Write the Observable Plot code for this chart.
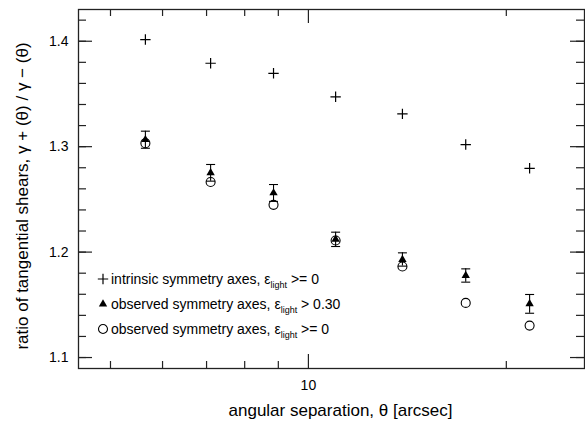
<!DOCTYPE html>
<html>
<head>
<meta charset="utf-8">
<script src="https://cdn.jsdelivr.net/npm/d3@7"></script>
<script src="https://cdn.jsdelivr.net/npm/@observablehq/plot@0.6"></script>
<style>
  html, body { margin: 0; padding: 0; background: #fff; }
  svg { font-family: "Liberation Sans", Arial, Helvetica, sans-serif; }
</style>
</head>
<body>
<div id="chart"></div>
<script>
// ---- data ----
const theta = [5.65, 7.1, 8.85, 11.0, 13.9, 17.35, 21.7];           // arcsec
const intrinsic = [1.4016, 1.3791, 1.3696, 1.3473, 1.3311, 1.3020, 1.2795];
const observed030 = [1.3066, 1.2752, 1.2561, 1.2121, 1.1930, 1.1778, 1.1509];
const observed030Err = [0.0081, 0.0079, 0.0080, 0.0068, 0.0063, 0.0063, 0.0089];
const observed0 = [1.3033, 1.2665, 1.2448, 1.2110, 1.1863, 1.1518, 1.1303];

const yMajor = [1.1, 1.2, 1.3, 1.4];
const yMinor = [1.10,1.12,1.14,1.16,1.18,1.20,1.22,1.24,1.26,1.28,1.30,1.32,1.34,1.36,1.38,1.40,1.42];
const xMajor = [10];
const xMinor = [5, 6, 7, 8, 9, 20];

const xTitle = "angular separation, θ [arcsec]";
const yTitle = "ratio of tangential shears, γ + (θ) / γ − (θ)";
const legendLabels = [
  {sym: "plus", pre: "intrinsic symmetry axes, ε", sub: "light", post: " >= 0"},
  {sym: "triangle", pre: "observed symmetry axes, ε", sub: "light", post: " > 0.30"},
  {sym: "circle", pre: "observed symmetry axes, ε", sub: "light", post: " >= 0"}
];

const rows = theta.map((t, i) => ({
  t, intr: intrinsic[i], obs: observed030[i], err: observed030Err[i], obs0: observed0[i]
}));

// ---- layout ----
const W = 585, H = 421;
const mL = 78, mR = 1, mT = 9, mB = 53;
const fw = W - mL - mR, fh = H - mT - mB;
const big = 14, small = 7, smallY = 8;
const rPlus = 3.44, rTri = 3.1, rCirc = 4.5;

const cap = {draw(ctx) { ctx.moveTo(-4.5, 0); ctx.lineTo(4.5, 0); }};

const plot = Plot.plot({
  width: W, height: H,
  marginLeft: mL, marginRight: mR, marginTop: mT, marginBottom: mB,
  style: {fontFamily: '"Liberation Sans", Arial, Helvetica, sans-serif', background: "#fff", color: "#000"},
  x: {type: "log", domain: [4.47, 26.3]},
  y: {domain: [1.0896, 1.4301]},
  marks: [
    Plot.axisY(yMajor, {anchor: "left", tickSize: 0, tickPadding: 10, fontSize: 14, tickFormat: d3.format(".1f"), label: null}),
    Plot.axisX(xMajor, {anchor: "bottom", tickSize: 0, tickPadding: 12, fontSize: 14, tickFormat: d => String(d), label: null}),
    // inward ticks
    Plot.tickY(yMajor, {y: d => d, insetRight: fw - big, stroke: "#222", strokeWidth: 1.2}),
    Plot.tickY(yMinor, {y: d => d, insetRight: fw - smallY, stroke: "#222", strokeWidth: 1.2}),
    Plot.tickY(yMajor, {y: d => d, insetLeft: fw - big, stroke: "#222", strokeWidth: 1.2}),
    Plot.tickY(yMinor, {y: d => d, insetLeft: fw - smallY, stroke: "#222", strokeWidth: 1.2}),
    Plot.tickX(xMajor, {x: d => d, insetTop: fh - big, stroke: "#222", strokeWidth: 1.2}),
    Plot.tickX(xMinor, {x: d => d, insetTop: fh - small, stroke: "#222", strokeWidth: 1.2}),
    Plot.tickX(xMajor, {x: d => d, insetBottom: fh - big, stroke: "#222", strokeWidth: 1.2}),
    Plot.tickX(xMinor, {x: d => d, insetBottom: fh - small, stroke: "#222", strokeWidth: 1.2}),
    Plot.frame({stroke: "#222", strokeWidth: 1.3}),
    // error bars
    Plot.ruleX(rows, {x: "t", y1: d => d.obs - d.err, y2: d => d.obs + d.err, stroke: "#000", strokeWidth: 1.1}),
    Plot.dot(rows, {x: "t", y: d => d.obs - d.err, symbol: cap, stroke: "#000", strokeWidth: 1.1}),
    Plot.dot(rows, {x: "t", y: d => d.obs + d.err, symbol: cap, stroke: "#000", strokeWidth: 1.1}),
    // observed, eps >= 0 (open circles)
    Plot.dot(rows, {x: "t", y: "obs0", r: rCirc, stroke: "#000", strokeWidth: 1.1, fill: "none"}),
    // observed, eps > 0.30 (filled triangles)
    Plot.dot(rows, {x: "t", y: "obs", symbol: "triangle", r: rTri, fill: "#000", stroke: "none"}),
    // intrinsic (plus)
    Plot.dot(rows, {x: "t", y: "intr", symbol: "plus", r: rPlus, stroke: "#000", strokeWidth: 1.2}),
    // x title
    Plot.text([xTitle], {frameAnchor: "bottom", text: d => d, dy: 47, dx: 9, fontSize: 17})
  ]
});

document.getElementById("chart").appendChild(plot);

const svg = d3.select(plot);

// ---- y title ----
svg.append("text")
  .attr("transform", `translate(22,196) rotate(-90)`)
  .attr("text-anchor", "middle")
  .attr("dy", "0.35em")
  .attr("font-size", 17)
  .attr("fill", "#000")
  .text(yTitle);

// ---- legend inside the plot frame ----
const lg = svg.append("g").attr("font-size", 14).attr("fill", "#000").attr("text-anchor", "start");
const symbols = {
  plus: d3.symbol(d3.symbolPlus, Math.PI * rPlus * rPlus),
  triangle: d3.symbol(d3.symbolTriangle, Math.PI * rTri * rTri),
  circle: d3.symbol(d3.symbolCircle, Math.PI * rCirc * rCirc)
};
legendLabels.forEach((item, i) => {
  const cy = 279 + i * 25;
  const g = lg.append("g");
  const p = g.append("path").attr("transform", `translate(103,${cy})`).attr("d", symbols[item.sym]());
  if (item.sym === "triangle") p.attr("fill", "#000");
  else p.attr("fill", "none").attr("stroke", "#000").attr("stroke-width", item.sym === "plus" ? 1.2 : 1.1);
  const t = g.append("text").attr("x", 111).attr("y", cy + 5);
  t.append("tspan").text(item.pre);
  t.append("tspan").attr("font-size", 9).attr("dy", 4).text(item.sub);
  t.append("tspan").attr("dy", -4).text(item.post);
});
</script>
</body>
</html>
